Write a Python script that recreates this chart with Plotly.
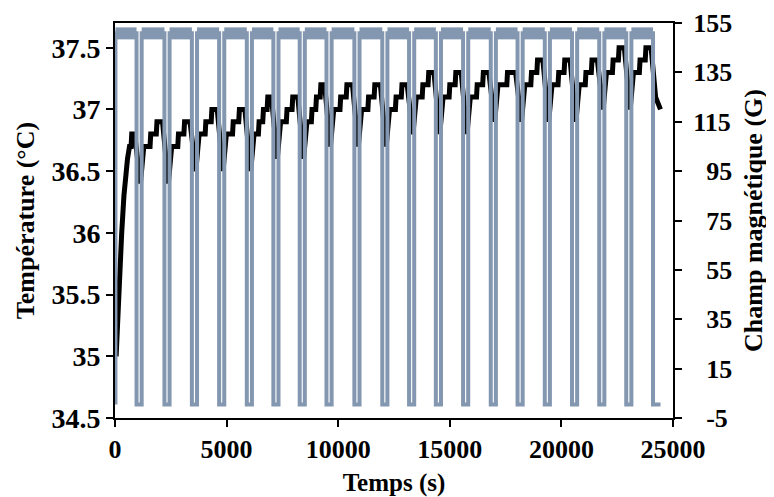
import plotly.graph_objects as go

# ---- data ----
# centre times (s) of the field-off intervals
off_centres = [1080, 2330, 3560, 4780, 6020, 7210, 8390, 9590, 10840, 12090,
               13290, 14490, 15710, 16950, 18150, 19370, 20590, 21810, 23020, 24220]
off_half = 115          # half-duration of an off interval (s)
t_end = 24440           # last recorded time (s)
field_high = 150.8      # field level when on (G)
field_low = 0.5         # field level when off (G)

# temperature: initial warm-up
warm_time = [50, 110, 200, 300, 400, 480, 560, 650, 720, 750]
warm_temp = [35.0, 35.3, 35.65, 36.0, 36.3, 36.5, 36.6, 36.7, 36.7, 36.8]
# temperature reached just before each field-off (°C)
temp_peak = [36.8, 36.9, 36.9, 37.0, 37.0, 37.1, 37.1, 37.2, 37.2, 37.2,
             37.2, 37.3, 37.3, 37.3, 37.3, 37.4, 37.4, 37.4, 37.5, 37.5]
# temperature minimum at the end of each field-off (°C)
temp_min = [36.4, 36.4, 36.5, 36.5, 36.5, 36.6, 36.6, 36.7, 36.7, 36.7,
            36.8, 36.8, 36.8, 36.9, 36.9, 36.9, 36.9, 37.0, 37.0]
# final points after the last switch-off
tail_time = [24220, 24440]
tail_temp = [37.1, 37.0]

x_ticks = [0, 5000, 10000, 15000, 20000, 25000]
x_ticktext = ["0", "5000", "10000", "15000", "20000", "25000"]
y_ticks = [34.5, 35, 35.5, 36, 36.5, 37, 37.5]
y_ticktext = ["34.5", "35", "35.5", "36", "36.5", "37", "37.5"]
y2_ticks = [-5, 15, 35, 55, 75, 95, 115, 135, 155]
y2_ticktext = ["\u2007-5", "\u200715", "\u200735", "\u200755", "\u200775",
               "\u200795", "115", "135", "155"]

# ---- build the traces ----
f_t = [20, 20]
f_v = [field_low, field_high]
band_t, band_v = [], []
prev_on = 20
for i, c in enumerate(off_centres):
    off = c - off_half
    on = c + off_half
    band_t += [prev_on, off, None]
    band_v += [field_high, field_high, None]
    if i < len(off_centres) - 1:
        f_t += [off, off, on, on]
        f_v += [field_high, field_low, field_low, field_high]
        prev_on = on
    else:
        f_t += [off, off, t_end]
        f_v += [field_high, field_low, field_low]

T_t = list(warm_time)
T_v = list(warm_temp)
for k in range(len(temp_min)):
    c = off_centres[k]
    T_t += [c - 200, c + 60]
    T_v += [temp_peak[k], temp_min[k]]
    start = c + 210
    stop = off_centres[k + 1] - 200
    lvl = round(temp_min[k] + 0.3, 2)
    T_t.append(start)
    T_v.append(lvl)
    n = round((temp_peak[k + 1] - lvl) / 0.1)
    span = (stop - start) / (n + 1)
    for j in range(n):
        tj = start + span * (j + 1)
        T_t += [tj, tj + 30]
        T_v += [lvl, round(lvl + 0.1, 2)]
        lvl = round(lvl + 0.1, 2)
T_t += [off_centres[-1] - 200] + tail_time
T_v += [temp_peak[-1]] + tail_temp

GRAY = "#8497B0"
FONT = "Liberation Serif"

fig = go.Figure()
fig.add_trace(go.Scatter(x=T_t, y=T_v, mode="lines", yaxis="y",
                         line=dict(color="black", width=5), showlegend=False))
fig.add_trace(go.Scatter(x=band_t, y=band_v, mode="lines", yaxis="y2",
                         line=dict(color=GRAY, width=12), showlegend=False))
fig.add_trace(go.Scatter(x=f_t, y=f_v, mode="lines", yaxis="y2",
                         line=dict(color=GRAY, width=4), showlegend=False))

xfont = dict(family=FONT, size=26, color="black", weight="bold")
yfont = dict(family=FONT, size=28, color="black", weight="bold")
y2font = dict(family=FONT, size=26, color="black", weight="bold")
xtitlefont = dict(family=FONT, size=25, color="black", weight="bold")
ytitlefont = dict(family=FONT, size=26, color="black", weight="bold")

# page body has an 8 px margin: figure sized/offset to compensate
fig.update_layout(
    width=766, height=489,
    margin=dict(l=107, r=101, t=15, b=79),
    paper_bgcolor="white", plot_bgcolor="white",
    xaxis=dict(range=[0, 25000], tickvals=x_ticks, ticktext=x_ticktext,
               showgrid=False, zeroline=False, automargin=False,
               showline=True, linecolor="black", linewidth=2, mirror=True,
               ticks="outside", ticklen=7, tickwidth=2, tickcolor="black",
               tickfont=xfont,
               title=dict(text="Temps (s)", font=xtitlefont, standoff=10)),
    yaxis=dict(range=[34.5, 37.7], tickvals=y_ticks, ticktext=y_ticktext,
               showgrid=False, zeroline=False, automargin=False,
               showline=True, linecolor="black", linewidth=2,
               ticks="outside", ticklen=7, tickwidth=2, tickcolor="black",
               tickfont=yfont,
               title=dict(text="Température (°C)", font=ytitlefont, standoff=9)),
    yaxis2=dict(range=[-5, 155], tickvals=y2_ticks, ticktext=y2_ticktext,
                overlaying="y", side="right", showgrid=False, zeroline=False,
                automargin=False, ticklabelstandoff=6,
                showline=True, linecolor="black", linewidth=2,
                ticks="outside", ticklen=7, tickwidth=2, tickcolor="black",
                tickfont=y2font,
                title=dict(text="Champ magnétique (G)", font=ytitlefont, standoff=13)),
)

fig.write_html("out.html")
